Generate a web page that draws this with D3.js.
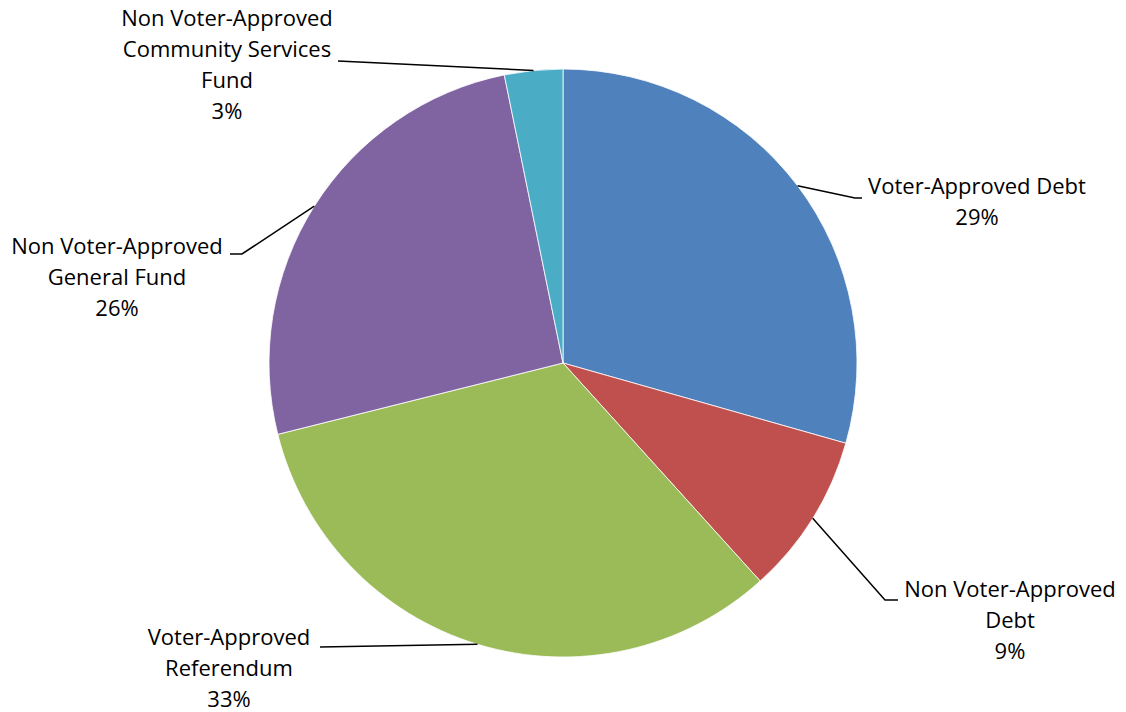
<!DOCTYPE html>
<html>
<head>
<meta charset="utf-8">
<script src="https://cdn.jsdelivr.net/npm/d3@7"></script>
<style>
  body { margin: 0; background: #fff; }
  text { font-family: "Open Sans", "Liberation Sans", Arial, sans-serif; font-size: 22px; fill: #000; }
</style>
</head>
<body>
<div id="chart-area"></div>
<script>
const categories = [
  "Voter-Approved Debt",
  "Non Voter-Approved Debt",
  "Voter-Approved Referendum",
  "Non Voter-Approved General Fund",
  "Non Voter-Approved Community Services Fund"
];
const values = [29.4, 8.9, 32.8, 25.7, 3.2];
const labelLines = [
  ["Voter-Approved Debt"],
  ["Non Voter-Approved", "Debt"],
  ["Voter-Approved", "Referendum"],
  ["Non Voter-Approved", "General Fund"],
  ["Non Voter-Approved", "Community Services", "Fund"]
];
const percentLabels = ["29%", "9%", "33%", "26%", "3%"];
const colors = ["#4F81BD", "#C0504D", "#9BBB59", "#8064A2", "#4BACC6"];

const width = 1126;
const height = 712;
const cx = 563, cy = 363, radius = 294;

// label layout: text centre x, first baseline y, elbow points of leader line
const layout = [
  { x: 977, y: 194, elbow: [[855, 198], [862, 198]] },
  { x: 1010, y: 597, elbow: [[885, 600], [898, 600]] },
  { x: 229, y: 645, elbow: [[320, 647]] },
  { x: 117, y: 254, elbow: [[242, 254], [230, 254]] },
  { x: 227, y: 26, elbow: [[338, 61]] }
];

const svg = d3.select("#chart-area")
  .append("svg")
    .attr("width", width)
    .attr("height", height);

const g = svg.append("g")
  .attr("transform", `translate(${cx}, ${cy})`);

const pie = d3.pie().sort(null).value(d => d);
const arcs = pie(values);

const arc = d3.arc().innerRadius(0).outerRadius(radius);

g.selectAll("path.slice")
  .data(arcs)
  .enter()
  .append("path")
    .attr("class", "slice")
    .attr("d", arc)
    .attr("fill", (d, i) => colors[i])
    .attr("stroke", "#fff")
    .attr("stroke-width", 0.8);

// leader lines from slice mid-angle on the rim
const line = d3.line();
g.selectAll("path.leader")
  .data(arcs)
  .enter()
  .append("path")
    .attr("class", "leader")
    .attr("fill", "none")
    .attr("stroke", "#000")
    .attr("stroke-width", 1.5)
    .attr("d", (d, i) => {
      const a = (d.startAngle + d.endAngle) / 2;
      const p0 = [Math.sin(a) * radius, -Math.cos(a) * radius];
      const pts = [p0].concat(layout[i].elbow.map(p => [p[0] - cx, p[1] - cy]));
      return line(pts);
    });

const labels = svg.selectAll("text.label")
  .data(arcs)
  .enter()
  .append("text")
    .attr("class", "label")
    .attr("text-anchor", "middle")
    .attr("x", (d, i) => layout[i].x)
    .attr("y", (d, i) => layout[i].y);

labels.each(function(d, i) {
  const t = d3.select(this);
  labelLines[i].concat([percentLabels[i]]).forEach((s, j) => {
    t.append("tspan")
      .attr("x", layout[i].x)
      .attr("dy", j === 0 ? 0 : 31)
      .text(s);
  });
});
</script>
</body>
</html>
